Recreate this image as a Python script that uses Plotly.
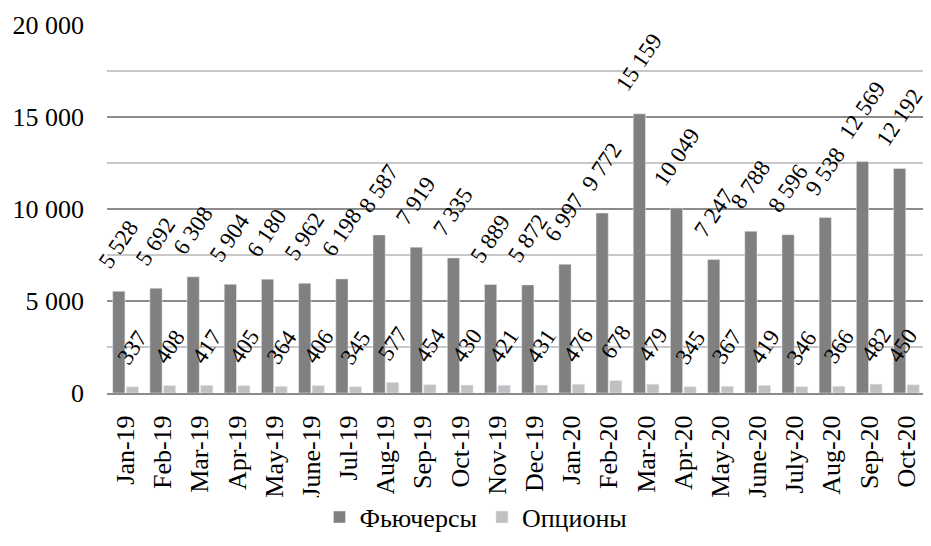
import plotly.graph_objects as go

# Месяцы и объемы торгов
months = ["Jan-19", "Feb-19", "Mar-19", "Apr-19", "May-19", "June-19", "Jul-19", "Aug-19",
          "Sep-19", "Oct-19", "Nov-19", "Dec-19", "Jan-20", "Feb-20", "Mar-20", "Apr-20",
          "May-20", "June-20", "July-20", "Aug-20", "Sep-20", "Oct-20"]
futures = [5528, 5692, 6308, 5904, 6180, 5962, 6198, 8587, 7919, 7335, 5889, 5872,
           6997, 9772, 15159, 10049, 7247, 8788, 8596, 9538, 12569, 12192]
options = [337, 408, 417, 405, 364, 406, 345, 577, 454, 430, 421, 431,
           476, 678, 479, 345, 367, 419, 346, 366, 482, 450]
y_ticks = [0, 5000, 10000, 15000, 20000]


def fmt(v):
    return f"{v:,}".replace(",", " ")


font = "Liberation Serif, Times New Roman, serif"

fig = go.Figure()
fig.add_trace(go.Bar(x=months, y=futures, name="Фьючерсы", marker_color="#808080"))
fig.add_trace(go.Bar(x=months, y=options, name="Опционы", marker_color="#c0c0c0"))

# подписи значений наклонно над столбцами
for series, shift in ((futures, -7), (options, 7)):
    for i, (m, v) in enumerate(zip(months, series)):
        dx = shift
        if shift > 0 and i == len(months) - 1:
            dx = -4  # последнюю подпись сдвигаем внутрь, как в Excel
        fig.add_annotation(x=m, y=v, text=fmt(v), textangle=-56, showarrow=False,
                           xanchor="center", yanchor="bottom", xshift=dx, yshift=15,
                           font=dict(family=font, size=23, color="black"))

# страница добавляет отступ 8px, поэтому фигура чуть меньше окна
fig.update_layout(
    width=923, height=538,
    margin=dict(l=99, r=6, t=16, b=153),
    plot_bgcolor="white", paper_bgcolor="white",
    barmode="group", bargap=0.27, bargroupgap=0.1,
    font=dict(family=font, size=26, color="black"),
    showlegend=True,
    legend=dict(orientation="h", x=0.507, xanchor="center", xref="container",
                y=0.01, yanchor="bottom", yref="container",
                font=dict(size=26), itemwidth=30),
)
fig.update_yaxes(range=[0, 20040], tickvals=y_ticks, ticktext=[fmt(v) for v in y_ticks],
                 showgrid=True, gridcolor="#8c8c8c", gridwidth=1.5, zeroline=False,
                 ticks="", ticklabelstandoff=22, automargin=False, tickfont=dict(size=26),
                 minor=dict(dtick=2500, tick0=0, showgrid=True, gridcolor="#c8c8c8", gridwidth=1.5))
fig.update_xaxes(range=[-0.5, len(months) - 0.5], tickangle=-90, showline=True,
                 linecolor="#8c8c8c", linewidth=2, ticks="", tickfont=dict(size=26),
                 ticklabelstandoff=10, automargin=False)

fig.write_html("out.html")
